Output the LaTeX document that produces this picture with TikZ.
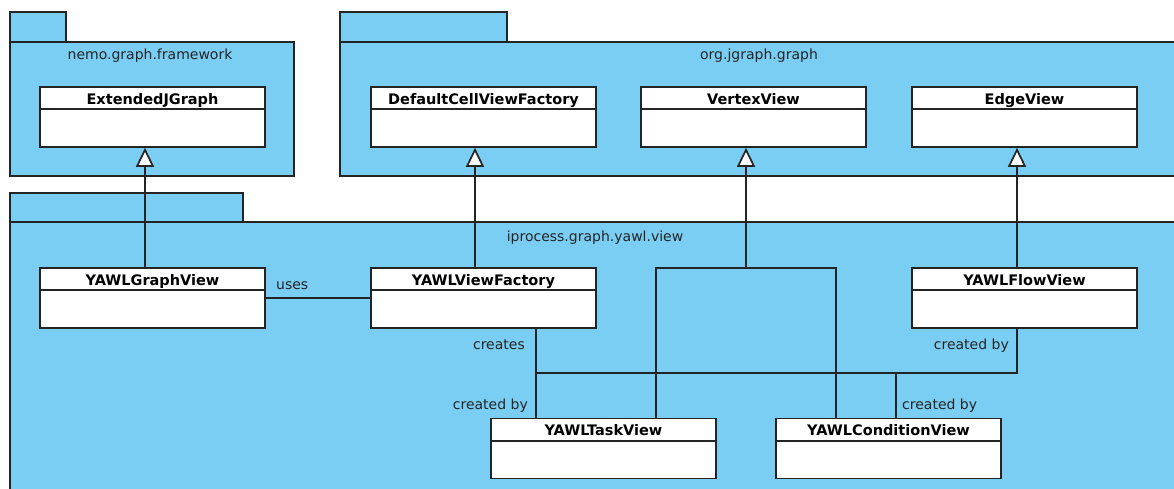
\documentclass[tikz,border=0pt]{standalone}
\usepackage{fontspec}
\setmainfont{DejaVu Sans}
\usetikzlibrary{arrows.meta,calc}
\definecolor{pkgfill}{RGB}{122,206,244}
\definecolor{ink}{RGB}{36,36,36}
\tikzset{
  pkg/.style={draw=ink, line width=1.7pt, fill=pkgfill},
  cls/.style={draw=ink, line width=1.7pt, fill=white, minimum width=225pt,
    minimum height=60pt, inner sep=0pt},
  clsname/.style={font=\bfseries\fontsize{14.5}{16}\selectfont, text=black, anchor=base, inner sep=0pt},
  pkgname/.style={font=\fontsize{14}{16}\selectfont, text=ink, anchor=base, inner sep=0pt},
  rel/.style={draw=ink, line width=1.7pt},
  gen/.style={rel, -{Triangle[open, length=19pt, width=18pt, fill=white]}},
  role/.style={font=\fontsize{14}{16}\selectfont, text=ink, inner sep=0pt},
}
% class box: name, centre, title
\newcommand\umlclass[3]{%
  \node[cls] (#1) at (#2) {};
  \node[clsname] (#1-title) at ($(#1.north)+(0,18)$) {#3};
  \draw[rel] ($(#1.north west)+(0,23)$) -- ($(#1.north east)+(0,23)$);
}
\begin{document}
\begin{tikzpicture}[x=1pt,y=-1pt]
\useasboundingbox (0,0) rectangle (1174,488);
\begin{scope}
  \clip (0,0) rectangle (1174,488);
  % packages: tab + body
  \draw[pkg] (10,12) rectangle (66,42);
  \draw[pkg] (10,42) rectangle (294,176);
  \draw[pkg] (340,12) rectangle (507,42);
  \draw[pkg] (340,42) rectangle (1180,176);
  \draw[pkg] (10,193) rectangle (243,222);
  \draw[pkg] (10,222) rectangle (1185,500);
\end{scope}
\node[pkgname] (p1) at (150,59) {nemo.graph.framework};
\node[pkgname] (p2) at (759,59) {org.jgraph.graph};
\node[pkgname] (p3) at (595,241) {iprocess.graph.yawl.view};

\umlclass{ejg}{152.5,117}{ExtendedJGraph}
\umlclass{dcvf}{483.5,117}{DefaultCellViewFactory}
\umlclass{vv}{753.5,117}{VertexView}
\umlclass{ev}{1024.5,117}{EdgeView}
\umlclass{ygv}{152.5,298}{YAWLGraphView}
\umlclass{yvf}{483.5,298}{YAWLViewFactory}
\umlclass{yfv}{1024.5,298}{YAWLFlowView}
\umlclass{ytv}{603.5,448.5}{YAWLTaskView}
\umlclass{ycv}{888.5,448.5}{YAWLConditionView}

% generalisations
\coordinate (ejgfoot) at ($(ejg.south)+(-7.5,0)$);
\coordinate (dcvffoot) at ($(dcvf.south)+(-8.5,0)$);
\coordinate (vvfoot) at ($(vv.south)+(-7.5,0)$);
\coordinate (evfoot) at ($(ev.south)+(-7.5,0)$);
\draw[gen] (ygv.north -| ejgfoot) -- (ejgfoot);
\draw[gen] (yvf.north -| dcvffoot) -- (dcvffoot);
\draw[gen] (yfv.north -| evfoot) -- (evfoot);
\coordinate (vbarL) at (656,268);
\coordinate (vbarR) at (836,268);
\draw[rel] (ytv.north -| vbarL) -- (vbarL) -- (vbarR) -- (ycv.north -| vbarR);
\draw[gen] (vvfoot |- vbarL) -- (vvfoot);

% uses
\draw[rel] (ygv.east) -- (yvf.west);
\node[role, anchor=base west] (uses) at (276,289) {uses};

% creates / created by
\coordinate (cj) at (536,373);
\coordinate (condj) at (896,373);
\coordinate (fj) at (1017,373);
\draw[rel] (yvf.south -| cj) -- (ytv.north -| cj);
\draw[rel] (cj) -- (fj) -- (yfv.south -| fj);
\draw[rel] (condj) -- (ycv.north -| condj);
\node[role, anchor=base east] (creates) at (525,349) {creates};
\node[role, anchor=base east] (cbtask) at (528,409) {created by};
\node[role, anchor=base east] (cbflow) at (1009,349) {created by};
\node[role, anchor=base west] (cbcond) at (902,409) {created by};
\end{tikzpicture}
\end{document}
